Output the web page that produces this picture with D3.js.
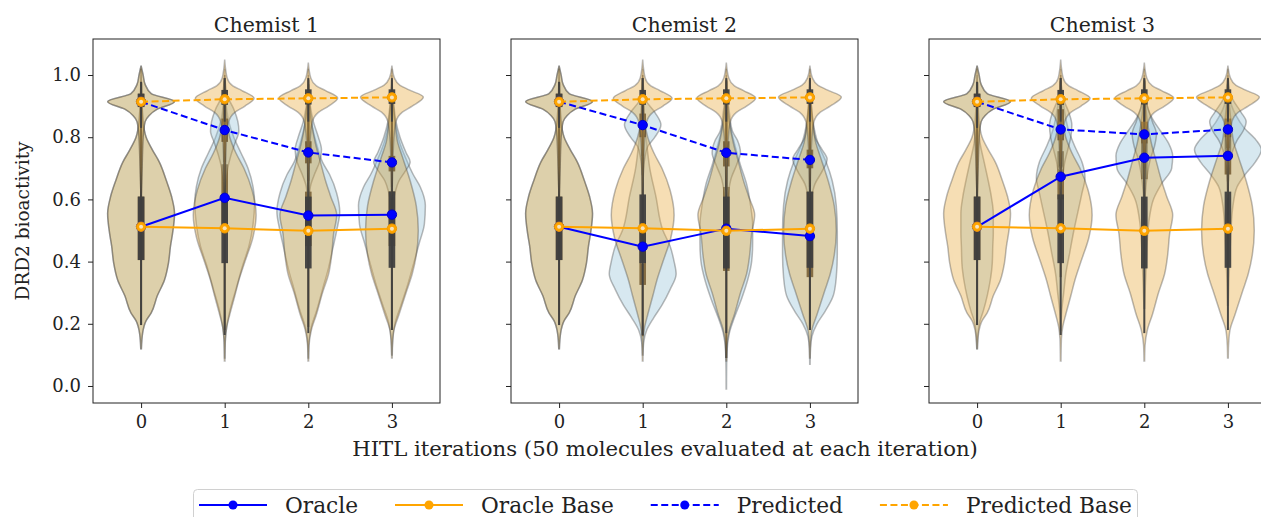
<!DOCTYPE html>
<html><head><meta charset="utf-8">
<script src="https://cdn.jsdelivr.net/npm/d3@7"></script>
<style>
body{margin:0;background:#fff}
svg{display:block}
text{font-family:"DejaVu Serif",serif;fill:#222}
</style>
</head><body>
<svg id="c" width="1261" height="517"></svg>
<script>
// ---------------- DATA ----------------
const chemists = ["Chemist 1", "Chemist 2", "Chemist 3"];
const iterations = [0, 1, 2, 3];
const yTicks = [0.0, 0.2, 0.4, 0.6, 0.8, 1.0];
const xLabel = "HITL iterations (50 molecules evaluated at each iteration)";
const yLabel = "DRD2 bioactivity";
const seriesNames = ["Oracle", "Oracle Base", "Predicted", "Predicted Base"];

// mean lines
const oracleBase = [0.512, 0.507, 0.499, 0.506];
const predictedBase = [0.914, 0.922, 0.925, 0.928];
const oracle = [
  [0.512, 0.605, 0.548, 0.551],
  [0.512, 0.448, 0.506, 0.482],
  [0.512, 0.673, 0.734, 0.740]
];
const predicted = [
  [0.914, 0.823, 0.751, 0.719],
  [0.914, 0.839, 0.750, 0.727],
  [0.914, 0.825, 0.809, 0.825]
];

// violin density profiles: [value, relative density]
const baseOracleViolins = [
  [[0.12,0.3],[0.17,1.5],[0.21,5],[0.235,10],[0.29,16],[0.34,23],[0.395,27],[0.45,29],[0.49,31],[0.555,33],[0.61,30],[0.66,25],[0.72,18],[0.76,11],[0.80,5],[0.85,2],[0.95,0.5],[1.02,0]],
  [[0.08,0.3],[0.15,0.7],[0.19,2],[0.23,5],[0.29,10],[0.34,14],[0.40,20],[0.48,28],[0.55,31],[0.63,27],[0.70,19],[0.75,11],[0.80,5],[0.85,2],[0.95,0.5],[1.02,0]],
  [[0.08,0.3],[0.13,0.7],[0.18,3],[0.23,8],[0.30,14],[0.36,20],[0.42,23],[0.49,25],[0.55,28],[0.61,22],[0.66,17],[0.72,12],[0.78,7],[0.85,3],[0.95,0.5],[1.02,0]],
  [[0.09,0.3],[0.13,0.6],[0.18,2],[0.23,7],[0.31,15],[0.36,20],[0.42,24],[0.50,26],[0.58,24],[0.66,18],[0.74,10],[0.78,6],[0.85,3],[0.95,0.5],[1.02,0]]
];
const basePredictedViolins = [
  [[0.6,0],[0.7,1],[0.8,2],[0.85,4],[0.87,8],[0.89,16],[0.914,33],[0.94,10],[0.97,4],[1.0,2],[1.03,0]],
  [[0.6,0],[0.7,0.8],[0.8,2],[0.85,4],[0.88,10],[0.90,20],[0.925,29],[0.95,17],[0.965,8],[0.99,2.5],[1.05,0]],
  [[0.6,0],[0.7,0.8],[0.8,2],[0.85,4],[0.88,10],[0.90,20],[0.926,29],[0.95,17],[0.965,8],[0.99,2.5],[1.04,0]],
  [[0.6,0],[0.7,0.8],[0.8,2],[0.85,4],[0.88,10],[0.90,20],[0.929,31],[0.952,17],[0.967,8],[0.99,2.5],[1.03,0]]
];
const oracleViolins = [
  [ baseOracleViolins[0],
    [[0.09,0.2],[0.14,0.5],[0.19,2],[0.24,5],[0.31,11],[0.39,18],[0.45,24],[0.52,28],[0.59,29.5],[0.64,28],[0.70,23],[0.75,16],[0.80,9],[0.85,4],[0.92,1],[1.0,0]],
    [[0.09,0.2],[0.14,0.6],[0.19,3],[0.24,8],[0.31,14],[0.38,20],[0.44,24],[0.50,28],[0.56,31],[0.62,28],[0.68,21],[0.72,14],[0.78,8],[0.85,3],[0.92,1],[1.0,0]],
    [[0.10,0.2],[0.15,0.7],[0.20,3],[0.26,9],[0.33,16],[0.40,22],[0.46,27],[0.52,32],[0.58,33],[0.64,28],[0.68,21],[0.73,14],[0.78,8],[0.85,3],[0.92,1],[1.0,0]] ],
  [ baseOracleViolins[0],
    [[0.10,0.3],[0.14,1],[0.18,4],[0.22,11],[0.26,19],[0.31,27],[0.36,33],[0.40,31],[0.45,27],[0.50,20],[0.61,13],[0.70,7],[0.78,4],[0.85,2],[0.92,1],[1.0,0]],
    [[-0.01,0.2],[0.05,0.3],[0.11,0.7],[0.17,3],[0.22,8],[0.28,15],[0.34,21],[0.40,25],[0.46,26],[0.52,26],[0.58,24],[0.65,20],[0.71,14],[0.78,8],[0.85,3],[0.92,1],[1.0,0]],
    [[0.07,0.2],[0.12,0.5],[0.16,2],[0.20,7],[0.24,15],[0.29,23],[0.35,26],[0.42,27],[0.50,27],[0.58,26],[0.66,22],[0.72,16],[0.78,8],[0.85,3],[0.92,1],[1.0,0]] ],
  [ [[0.12,0.3],[0.17,1],[0.21,3],[0.24,6],[0.29,10],[0.34,13],[0.395,15],[0.45,15.5],[0.49,16],[0.555,16],[0.61,14],[0.66,11],[0.72,7],[0.78,3],[0.85,1],[0.95,0.3],[1.0,0]],
    [[0.18,0.3],[0.24,1],[0.30,3],[0.36,5],[0.43,9],[0.50,13],[0.56,17],[0.62,21],[0.67,24],[0.72,21],[0.77,14],[0.82,8],[0.88,4],[0.95,1],[1.0,0]],
    [[0.25,0.4],[0.32,1],[0.40,2],[0.47,3],[0.54,5],[0.60,9],[0.65,17],[0.70,27],[0.74,28],[0.78,24],[0.82,16],[0.86,8],[0.90,3],[0.96,1],[1.0,0]],
    [[0.26,0.4],[0.34,1],[0.42,2],[0.50,3],[0.58,5],[0.64,9],[0.68,17],[0.72,27],[0.76,33],[0.79,28],[0.83,16],[0.87,8],[0.91,3],[0.97,1],[1.0,0]] ]
];
const predictedViolins = [
  [ basePredictedViolins[0],
    [[0.6,0.3],[0.65,1],[0.70,3],[0.74,6],[0.78,10],[0.82,14],[0.85,13],[0.89,9],[0.93,3],[0.98,0.5],[1.0,0]],
    [[0.58,0.5],[0.64,2],[0.68,6],[0.72,11],[0.76,13],[0.80,10],[0.85,5],[0.90,2],[0.95,0.5],[0.98,0]],
    [[0.57,0.5],[0.62,3],[0.66,7],[0.69,13],[0.72,18],[0.75,14],[0.80,8],[0.85,4],[0.90,2],[0.95,0.5],[0.98,0]] ],
  [ basePredictedViolins[0],
    [[0.68,0.5],[0.73,2],[0.77,5],[0.80,12],[0.84,18],[0.88,12],[0.92,3],[0.97,0.5],[1.0,0]],
    [[0.56,0.4],[0.62,2],[0.67,5],[0.71,10],[0.75,14],[0.79,11],[0.82,6],[0.88,3],[0.95,0.5],[0.98,0]],
    [[0.55,0.3],[0.60,1.5],[0.65,5],[0.69,12],[0.73,17],[0.76,12],[0.80,5],[0.86,2],[0.93,0.5],[0.96,0]] ],
  [ basePredictedViolins[0],
    [[0.6,0.5],[0.67,2],[0.72,4],[0.76,7],[0.80,10],[0.84,11],[0.88,8],[0.92,3],[0.97,0.5],[1.0,0]],
    [[0.56,0.3],[0.62,1],[0.68,3],[0.73,6],[0.77,10],[0.81,12],[0.85,8],[0.90,3],[0.95,0.5],[0.98,0]],
    [[0.66,0.5],[0.72,2],[0.76,5],[0.79,9],[0.82,15],[0.85,18],[0.88,13],[0.92,5],[0.96,0.5],[0.99,0]] ]
];

// inner box stats: [whiskerLow, q1, median, q3, whiskerHigh]
const baseOracleBoxes = [[0.196,0.405,0.51,0.609,0.975],[0.164,0.395,0.505,0.616,0.99],[0.17,0.378,0.50,0.609,0.985],[0.18,0.38,0.50,0.625,0.985]];
const basePredictedBoxes = [[0.83,0.897,0.914,0.94,0.978],[0.85,0.904,0.925,0.952,0.99],[0.85,0.905,0.926,0.954,0.99],[0.85,0.907,0.929,0.954,0.99]];
const oracleBoxes = [
  [baseOracleBoxes[0],[0.18,0.50,0.61,0.713,0.98],[0.19,0.45,0.55,0.625,0.97],[0.18,0.45,0.55,0.627,0.96]],
  [baseOracleBoxes[0],[0.16,0.325,0.40,0.50,0.76],[0.09,0.37,0.50,0.64,0.98],[0.18,0.35,0.475,0.625,0.96]],
  [baseOracleBoxes[0],[0.35,0.60,0.70,0.755,0.98],[0.48,0.665,0.74,0.80,0.98],[0.55,0.68,0.76,0.81,0.97]]
];
const predictedBoxes = [
  [basePredictedBoxes[0],[0.72,0.785,0.83,0.86,0.95],[0.66,0.716,0.755,0.787,0.88],[0.64,0.69,0.715,0.74,0.80]],
  [basePredictedBoxes[0],[0.74,0.80,0.84,0.876,0.94],[0.63,0.706,0.75,0.787,0.88],[0.64,0.70,0.728,0.76,0.83]],
  [basePredictedBoxes[0],[0.70,0.79,0.83,0.89,0.95],[0.70,0.78,0.81,0.85,0.93],[0.74,0.80,0.83,0.86,0.93]]
];

// ---------------- STYLE / LAYOUT ----------------
const W = 1261, H = 517;
const panelW = 347, panelGap = 71, firstLeft = 93;
const plotTop = 39, plotBottom = 403;
const font = "DejaVu Serif";
const orangeFill = "#E8A83A", blueFill = "#96C3D8";
const lineBlue = "#0000ff", lineOrange = "#FFA500";

const svg = d3.select("#c");
svg.append("rect").attr("width", W).attr("height", H).attr("fill", "#fff");

const y = d3.scaleLinear().domain([-0.0547, 1.1158]).range([plotBottom, plotTop]);

function drawViolin(g, x, cx, profile, box, fill) {
  const wScale = d3.scaleLinear().domain([0, 33]).range([0, x(0.4) - x(0)]);
  const pts = profile.slice().sort((a, b) => a[0] - b[0]);
  const area = d3.area()
    .curve(d3.curveMonotoneY)
    .y(d => y(d[0]))
    .x0(d => x(cx) - wScale(d[1]))
    .x1(d => x(cx) + wScale(d[1]));
  g.append("path").attr("d", area(pts))
    .attr("fill", fill).attr("fill-opacity", 0.38)
    .attr("stroke", "#3f3f3f").attr("stroke-opacity", 0.36).attr("stroke-width", 1.5);
  g.append("line")
    .attr("x1", x(cx)).attr("x2", x(cx))
    .attr("y1", y(box[0])).attr("y2", y(box[4]))
    .attr("stroke", "#3f3f3f").attr("stroke-opacity", 0.95).attr("stroke-width", 2);
  g.append("rect")
    .attr("x", x(cx) - 3.3).attr("width", 6.6)
    .attr("y", y(box[3])).attr("height", y(box[1]) - y(box[3]))
    .attr("fill", "#3f3f3f").attr("fill-opacity", 0.95);
  g.append("circle").attr("cx", x(cx)).attr("cy", y(box[2])).attr("r", 2.2)
    .attr("fill", "#ffffff").attr("fill-opacity", 0.55);
}

chemists.forEach((name, p) => {
  const left = firstLeft + p * (panelW + panelGap);
  const x = d3.scaleLinear().domain([-0.575, 3.575]).range([left, left + panelW]);
  const g = svg.append("g");

  iterations.forEach((it, i) => drawViolin(g, x, it, oracleViolins[p][i], oracleBoxes[p][i], blueFill));
  iterations.forEach((it, i) => drawViolin(g, x, it, predictedViolins[p][i], predictedBoxes[p][i], blueFill));
  iterations.forEach((it, i) => drawViolin(g, x, it, baseOracleViolins[i], baseOracleBoxes[i], orangeFill));
  iterations.forEach((it, i) => drawViolin(g, x, it, basePredictedViolins[i], basePredictedBoxes[i], orangeFill));

  const line = d3.line().x((d, i) => x(iterations[i])).y(d => y(d));
  const series = [
    {vals: oracle[p], color: lineBlue, dash: null},
    {vals: predicted[p], color: lineBlue, dash: "7,3.5"},
    {vals: oracleBase, color: lineOrange, dash: null},
    {vals: predictedBase, color: lineOrange, dash: "7,3.5"}
  ];
  series.forEach(s => {
    g.append("path").attr("d", line(s.vals)).attr("fill", "none")
      .attr("stroke", s.color).attr("stroke-width", 2)
      .attr("stroke-dasharray", s.dash);
    g.selectAll(null).data(s.vals).enter().append("circle")
      .attr("cx", (d, i) => x(iterations[i])).attr("cy", d => y(d)).attr("r", 4.7)
      .attr("fill", s.color).attr("stroke", s.color === lineBlue ? "#0000c8" : "#f09a00").attr("stroke-width", 1);
    if (s.color === lineOrange) {
      g.selectAll(null).data(s.vals).enter().append("circle")
        .attr("cx", (d, i) => x(iterations[i])).attr("cy", d => y(d)).attr("r", 2)
        .attr("fill", "#f6e3bf");
    }
  });

  g.append("rect").attr("x", left).attr("y", plotTop).attr("width", panelW).attr("height", plotBottom - plotTop)
    .attr("fill", "none").attr("stroke", "#222").attr("stroke-width", 1);

  const ya = d3.axisLeft(y).tickValues(yTicks).tickSize(5).tickPadding(7)
    .tickFormat(p === 0 ? d3.format(".1f") : () => "");
  const yg = g.append("g").attr("transform", `translate(${left},0)`).call(ya);
  const xa = d3.axisBottom(x).tickValues(iterations).tickSize(5).tickPadding(7).tickFormat(d3.format("d"));
  const xg = g.append("g").attr("transform", `translate(0,${plotBottom})`).call(xa);
  [yg, xg].forEach(a => {
    a.select(".domain").remove();
    a.selectAll("line").attr("stroke", "#222");
    a.selectAll("text").attr("font-family", font).attr("font-size", 18).attr("fill", "#222");
  });

  svg.append("text").attr("x", left + panelW / 2).attr("y", 32)
    .attr("text-anchor", "middle").attr("font-size", 20.5).text(name);
});

svg.append("text").attr("x", 665).attr("y", 456).attr("text-anchor", "middle")
  .attr("font-size", 21.2).text(xLabel);
svg.append("text").attr("transform", "translate(29,221) rotate(-90)").attr("text-anchor", "middle")
  .attr("font-size", 18.5).text(yLabel);

const lg = svg.append("g");
lg.append("rect").attr("x", 193.5).attr("y", 489.5).attr("width", 944).attr("height", 45)
  .attr("rx", 4).attr("fill", "#fff").attr("stroke", "#d0d0d0");
const legendStyles = [
  {color: lineBlue, dash: null}, {color: lineOrange, dash: null},
  {color: lineBlue, dash: "7,3.5"}, {color: lineOrange, dash: "7,3.5"}
];
let lx = 199;
const ly = 505, handle = 68, pad = 18, colGap = 37;
seriesNames.forEach((n, i) => {
  const st = legendStyles[i];
  lg.append("line").attr("x1", lx).attr("x2", lx + handle).attr("y1", ly).attr("y2", ly)
    .attr("stroke", st.color).attr("stroke-width", 2).attr("stroke-dasharray", st.dash);
  lg.append("circle").attr("cx", lx + handle / 2).attr("cy", ly).attr("r", 4.5).attr("fill", st.color);
  const t = lg.append("text").attr("x", lx + handle + pad).attr("y", ly + 7.8)
    .attr("font-size", 21.7).text(n);
  lx += handle + pad + t.node().getComputedTextLength() + colGap;
});
</script>
</body></html>
